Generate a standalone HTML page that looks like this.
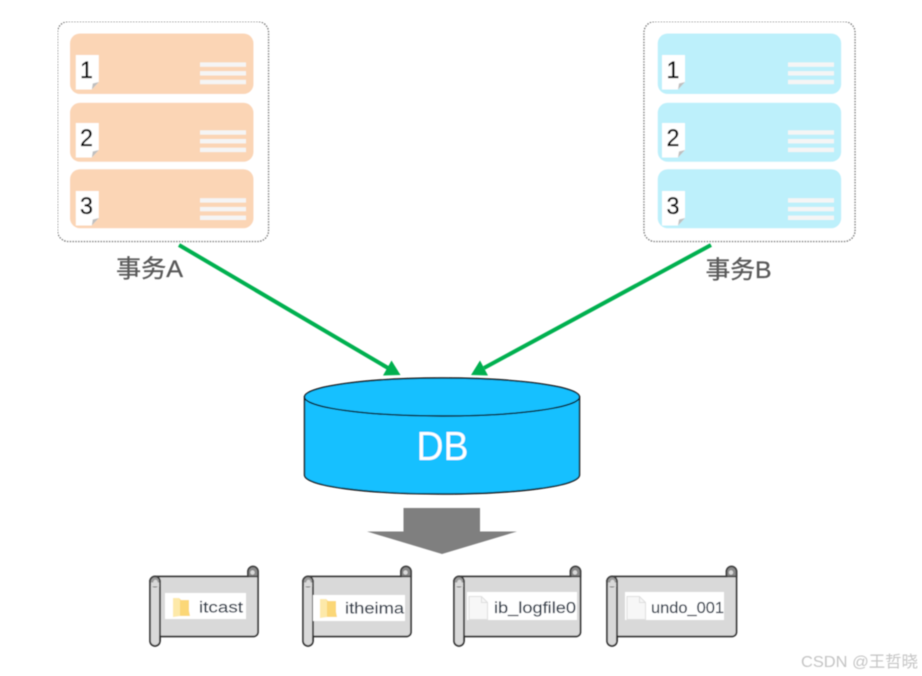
<!DOCTYPE html>
<html><head><meta charset="utf-8"><style>html,body{margin:0;padding:0;background:#fff}svg{display:block}text{font-family:"Liberation Sans","Noto Sans CJK SC",sans-serif}</style></head><body>
<svg width="922" height="676" viewBox="0 0 922 676" xmlns="http://www.w3.org/2000/svg">
<defs>
<filter id="b" x="0" y="0" width="100%" height="100%"><feGaussianBlur stdDeviation="0.4"/></filter>
<g id="lines"><rect x="0" y="0" width="46" height="4.400" fill="#f5f5f5"/><rect x="0" y="8.700" width="46" height="4.400" fill="#f5f5f5"/><rect x="0" y="17.400" width="46" height="4.400" fill="#f5f5f5"/></g>
<g id="paper"><path d="M0 0H23V27L16 34.500H0Z" fill="#fff"/><path d="M23 27L16 34.500L17 28.500Z" fill="#bfbfbf"/></g>
<g id="doc"><path d="M0.500 0.500H13L19 6.500V23.500H0.500Z" fill="#f7f7f7" stroke="#dedede"/><path d="M13 0.500V6.500H19" fill="none" stroke="#dedede"/></g>
<g id="folder"><path d="M0 1H6L8 3H16V14L17 19H3L0 20Z" fill="#fbd777"/><path d="M0 1H6L7 3V19L0 20Z" fill="#fde9a9"/></g>
<g id="curlL"><circle cx="5" cy="5.500" r="5" fill="#9a9a9a" stroke="#3f3f3f" stroke-width="1.600"/><circle cx="5.500" cy="6" r="2.200" fill="#d9d9d9"/><rect x="1" y="6.500" width="8.200" height="4" fill="#d9d9d9"/></g>
<g id="curlR"><path d="M0 10.500V5.500A5 5 0 0 1 10 5.500V10.500Z" fill="#8a8a8a" stroke="#3f3f3f" stroke-width="1.600"/><circle cx="4.500" cy="6.500" r="2.200" fill="#d9d9d9"/></g>
</defs>
<g filter="url(#b)">

<rect x="57.500" y="21.500" width="211" height="220" rx="11" fill="#fff" stroke="#6e6e6e" stroke-width="1.300" stroke-dasharray="1.600 1.200"/>
<rect x="644" y="21.500" width="211" height="220" rx="11" fill="#fff" stroke="#6e6e6e" stroke-width="1.300" stroke-dasharray="1.600 1.200"/>

<rect x="70" y="33.500" width="183.500" height="60.500" rx="10" fill="#fbd5b5"/>
<rect x="70" y="102.800" width="183.500" height="59" rx="10" fill="#fbd5b5"/>
<rect x="70" y="169.200" width="183.500" height="59" rx="10" fill="#fbd5b5"/>
<rect x="657.700" y="33.500" width="183.500" height="60.500" rx="10" fill="#bdf0fb"/>
<rect x="657.700" y="102.800" width="183.500" height="59" rx="10" fill="#bdf0fb"/>
<rect x="657.700" y="169.200" width="183.500" height="59" rx="10" fill="#bdf0fb"/>

<use href="#lines" x="200" y="62.400"/><use href="#lines" x="200" y="130.300"/><use href="#lines" x="200" y="198.200"/>
<use href="#lines" x="788" y="62.400"/><use href="#lines" x="788" y="130.300"/><use href="#lines" x="788" y="198.200"/>

<use href="#paper" x="75.800" y="55"/><use href="#paper" x="75.800" y="123"/><use href="#paper" x="75.800" y="191"/>
<use href="#paper" x="662" y="55"/><use href="#paper" x="662" y="123"/><use href="#paper" x="662" y="191"/>

<g font-size="24" fill="#000" stroke="#000" stroke-width="0.300">
<text x="80" y="78" textLength="13" lengthAdjust="spacingAndGlyphs">1</text><text x="80" y="146" textLength="13" lengthAdjust="spacingAndGlyphs">2</text><text x="80" y="214" textLength="13" lengthAdjust="spacingAndGlyphs">3</text>
<text x="666.500" y="78" textLength="13" lengthAdjust="spacingAndGlyphs">1</text><text x="666.500" y="146" textLength="13" lengthAdjust="spacingAndGlyphs">2</text><text x="666.500" y="214" textLength="13" lengthAdjust="spacingAndGlyphs">3</text>
</g>

<text x="116" y="277" font-size="24.500" fill="#595959" stroke="#595959" stroke-width="0.300" textLength="67" lengthAdjust="spacingAndGlyphs">事务A</text>
<text x="705.500" y="278" font-size="24.500" fill="#595959" stroke="#595959" stroke-width="0.300" textLength="66" lengthAdjust="spacingAndGlyphs">事务B</text>

<line x1="179" y1="245" x2="388" y2="368" stroke="#00b050" stroke-width="4"/>
<path d="M400.500 375L383 375.500L391.500 360.500Z" fill="#00b050"/>
<line x1="711" y1="245" x2="484" y2="368" stroke="#00b050" stroke-width="4"/>
<path d="M471 375L488 375.500L480 360.500Z" fill="#00b050"/>

<path d="M304.500 397V475C304.500 486 366 494 442 494S579.500 486 579.500 475V397Z" fill="#17c0ff" stroke="#111" stroke-width="1.400"/>
<ellipse cx="442" cy="397" rx="137.500" ry="19" fill="#17c0ff" stroke="#111" stroke-width="1.400"/>
<text x="416.500" y="460" font-size="41" fill="#fff" textLength="52" lengthAdjust="spacingAndGlyphs">DB</text>

<path d="M403.500 508H480V531.500H517L442 554L367 531.500H403.500Z" fill="#7f7f7f"/>

<g fill="#d9d9d9" stroke="#333" stroke-width="1.700">
<path d="M155 576.500H248V571.500A5 5 0 0 1 258 571.500V632A4.500 4.500 0 0 1 253.500 636.500H160V641A5 5 0 0 1 150 641V581.500A5 5 0 0 1 155 576.500Z"/>
<path d="M150 581.500A5 5 0 0 1 160 581.500V641" fill="none"/>

<path d="M308 576.500H401V571.500A5 5 0 0 1 411 571.500V632A4.500 4.500 0 0 1 406.500 636.500H313V641A5 5 0 0 1 303 641V581.500A5 5 0 0 1 308 576.500Z"/>
<path d="M303 581.500A5 5 0 0 1 313 581.500V641" fill="none"/>

<path d="M459 576.500H570.500V571.500A5 5 0 0 1 580.500 571.500V632A4.500 4.500 0 0 1 576 636.500H464V641A5 5 0 0 1 454 641V581.500A5 5 0 0 1 459 576.500Z"/>
<path d="M454 581.500A5 5 0 0 1 464 581.500V641" fill="none"/>

<path d="M612 576.500H726.500V571.500A5 5 0 0 1 736.500 571.500V632A4.500 4.500 0 0 1 732 636.500H617V641A5 5 0 0 1 607 641V581.500A5 5 0 0 1 612 576.500Z"/>
<path d="M607 581.500A5 5 0 0 1 617 581.500V641" fill="none"/>
</g>
<use href="#curlR" x="248" y="566"/><use href="#curlR" x="401" y="566"/><use href="#curlR" x="570.500" y="566"/><use href="#curlR" x="726.500" y="566"/>
<use href="#curlL" x="150" y="576"/><use href="#curlL" x="303" y="576"/><use href="#curlL" x="454" y="576"/><use href="#curlL" x="607" y="576"/>

<rect x="165" y="593" width="81" height="26" fill="#fff"/>
<rect x="313" y="595" width="92" height="26" fill="#fff"/>
<rect x="467" y="592" width="110" height="28" fill="#fff"/>
<rect x="625" y="592" width="99" height="28" fill="#fff"/>

<use href="#folder" x="173" y="597"/>
<use href="#folder" x="320" y="598"/>
<use href="#doc" x="468.500" y="596"/>
<use href="#doc" x="626.500" y="596"/>

<g font-size="15.500" fill="#2f3a48" stroke="#2f3a48" stroke-width="0.150">
<text x="199" y="612.500" textLength="44" lengthAdjust="spacingAndGlyphs">itcast</text>
<text x="345" y="613.500" textLength="59" lengthAdjust="spacingAndGlyphs">itheima</text>
<text x="494" y="613" textLength="82" lengthAdjust="spacingAndGlyphs">ib_logfile0</text>
<text x="651" y="613" textLength="73" lengthAdjust="spacingAndGlyphs">undo_001</text>
</g>

<text x="801" y="667" font-size="16" fill="#c4c4c4" textLength="117" lengthAdjust="spacingAndGlyphs">CSDN @王哲晓</text>
</g>
</svg>
</body></html>
